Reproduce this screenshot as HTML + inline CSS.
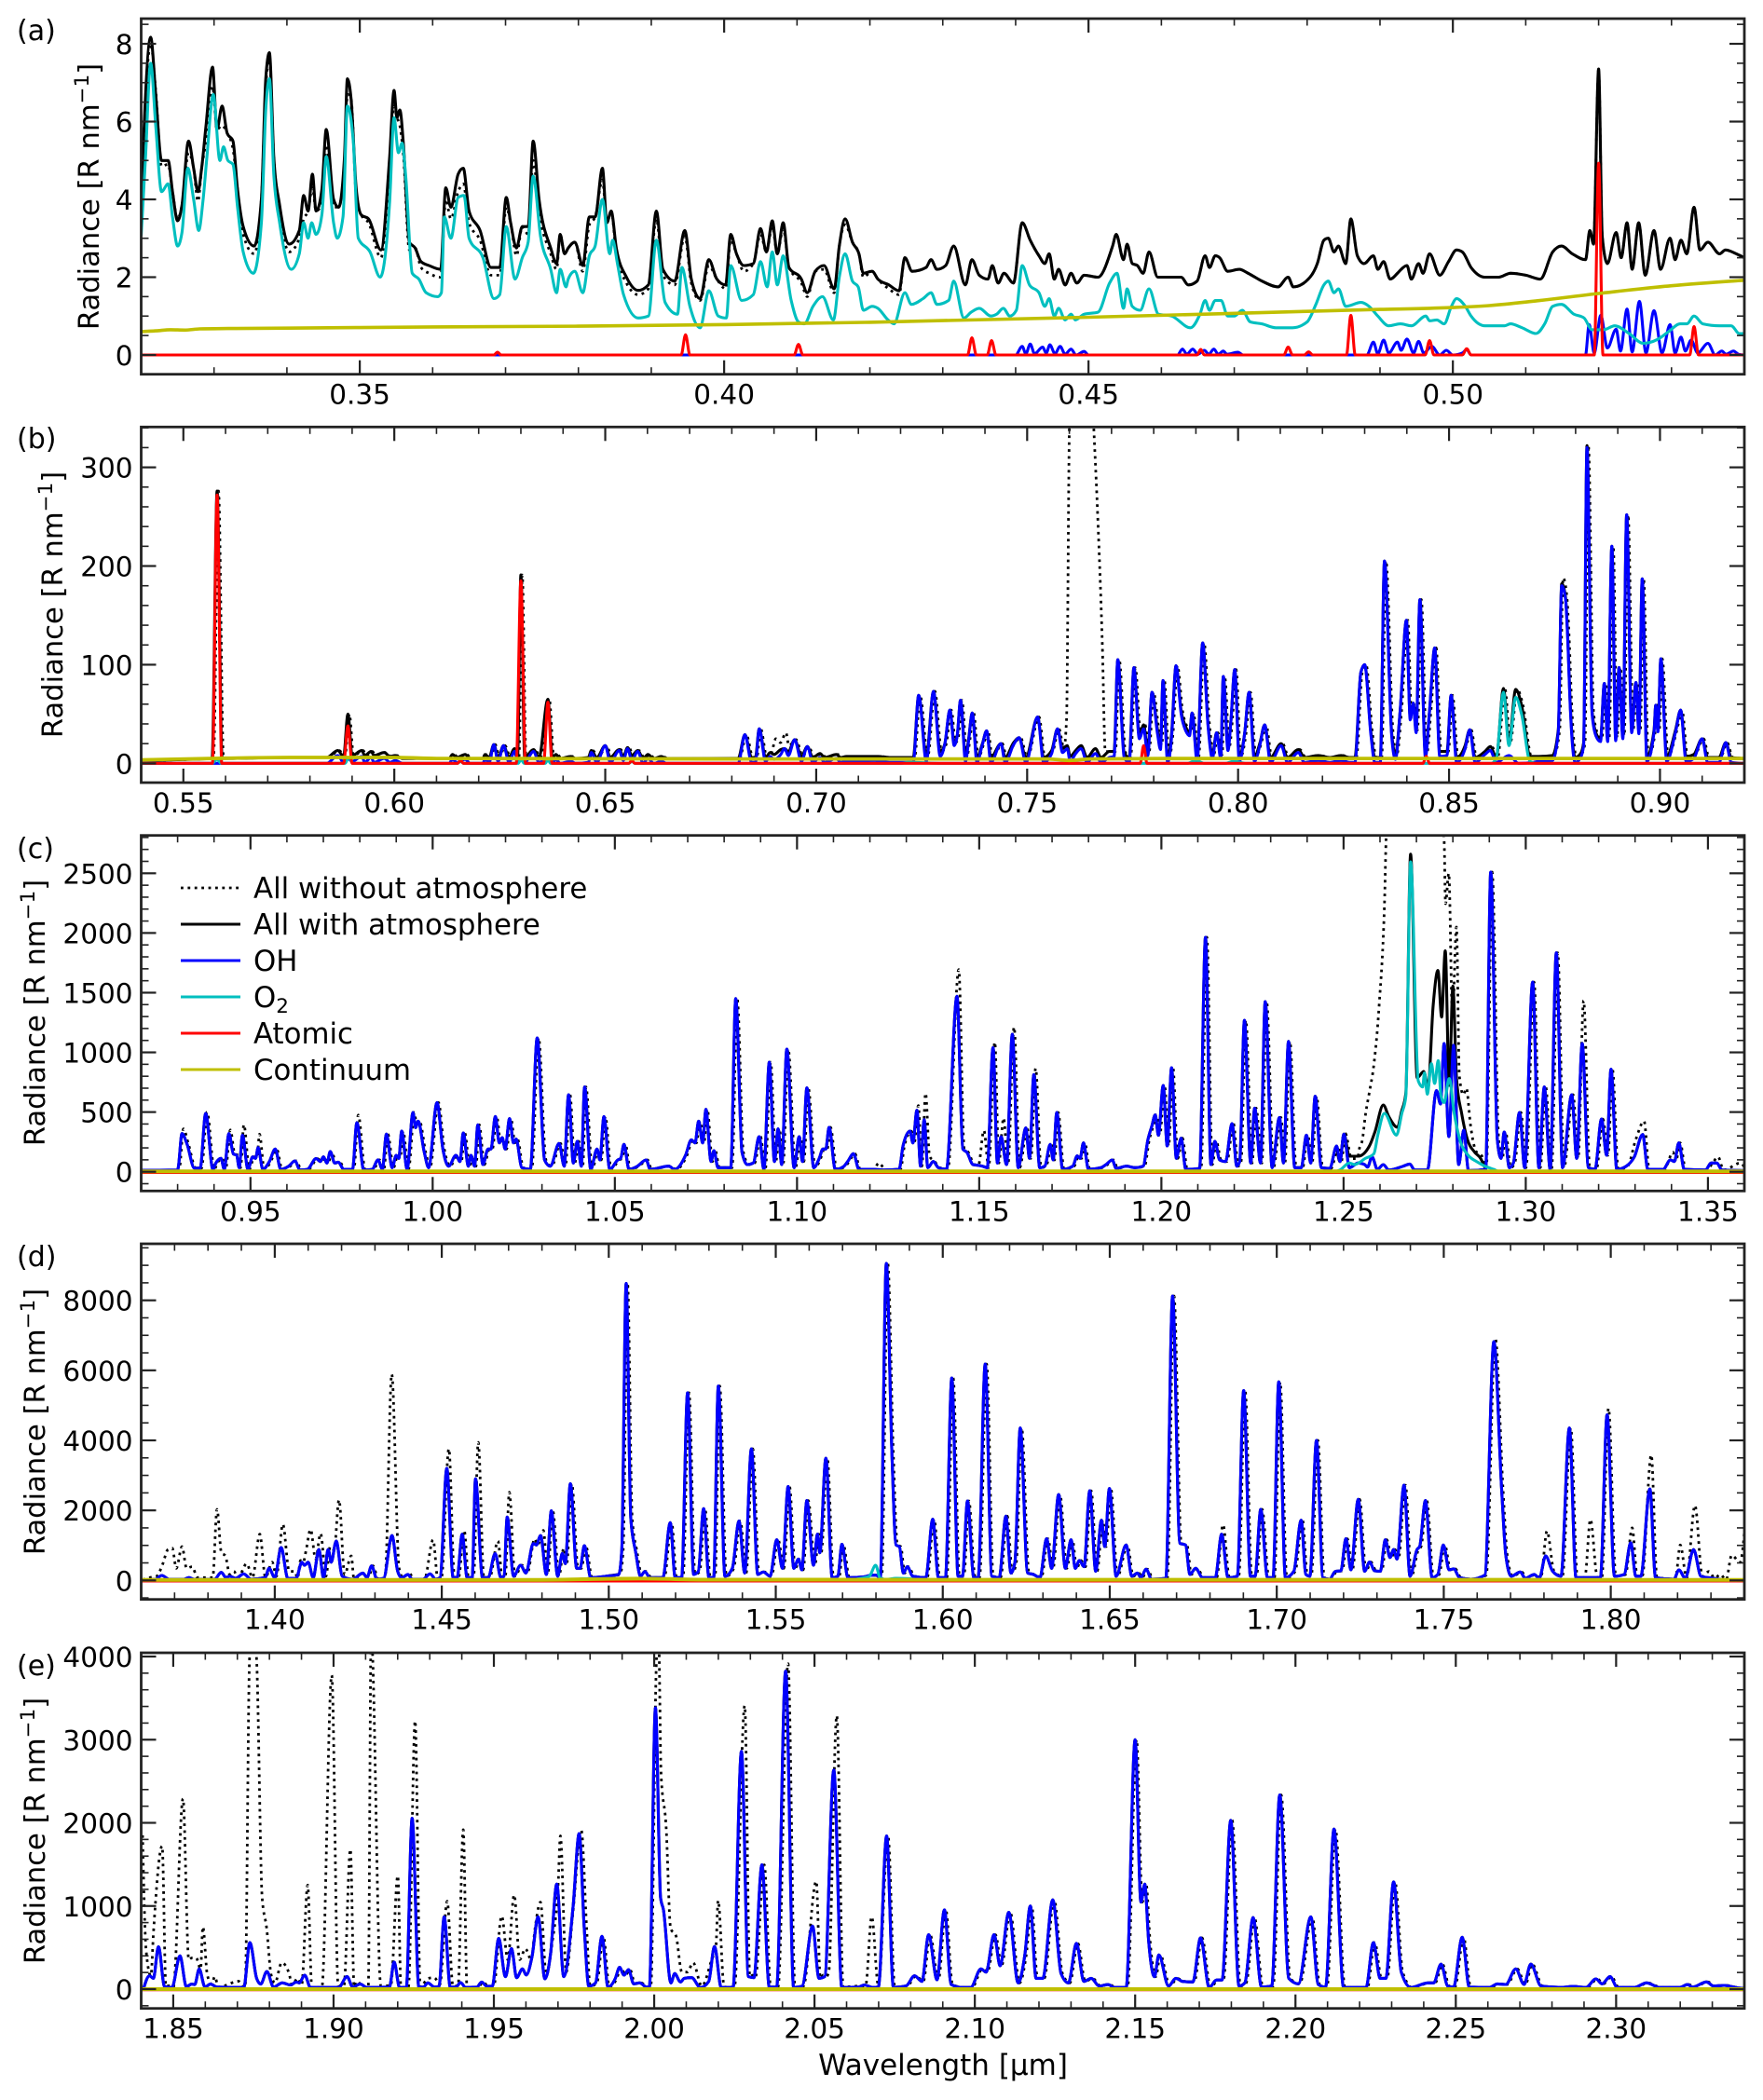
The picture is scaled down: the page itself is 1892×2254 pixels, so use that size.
<!DOCTYPE html>
<html><head><meta charset="utf-8"><title>Nightglow spectrum</title>
<style>
html,body{margin:0;padding:0;background:#fff}
svg{display:block}
text{font-family:"DejaVu Sans","Liberation Sans",sans-serif;fill:#000}
</style></head>
<body>
<svg id="fig" width="1892" height="2254" viewBox="0 0 1892 2254">
<rect x="0" y="0" width="1892" height="2254" fill="#fff"/>
<g id="panel-a"></g>
<g id="panel-b"></g>
<g id="panel-c"></g>
<g id="panel-d"></g>
<g id="panel-e"></g>
<text x="18" y="43" font-size="30">(a)</text>
<text x="18" y="481" font-size="30">(b)</text>
<text x="18" y="921" font-size="30">(c)</text>
<text x="18" y="1359" font-size="30">(d)</text>
<text x="18" y="1798" font-size="30">(e)</text>
<text font-size="30.6" text-anchor="middle" transform="translate(106,211) rotate(-90)">Radiance [R nm<tspan font-size="21.4" dy="-11">−1</tspan><tspan dy="11">]</tspan></text>
<text font-size="30.6" text-anchor="middle" transform="translate(67,649) rotate(-90)">Radiance [R nm<tspan font-size="21.4" dy="-11">−1</tspan><tspan dy="11">]</tspan></text>
<text font-size="30.6" text-anchor="middle" transform="translate(48,1087) rotate(-90)">Radiance [R nm<tspan font-size="21.4" dy="-11">−1</tspan><tspan dy="11">]</tspan></text>
<text font-size="30.6" text-anchor="middle" transform="translate(48,1526) rotate(-90)">Radiance [R nm<tspan font-size="21.4" dy="-11">−1</tspan><tspan dy="11">]</tspan></text>
<text font-size="30.6" text-anchor="middle" transform="translate(48,1965) rotate(-90)">Radiance [R nm<tspan font-size="21.4" dy="-11">−1</tspan><tspan dy="11">]</tspan></text>
<text x="1012" y="2227" font-size="31" text-anchor="middle">Wavelength [µm]</text>
<g>
<line x1="194" x2="258" y1="953" y2="953" stroke="#000" stroke-width="2.8" stroke-dasharray="2.8 4.6"/>
<text x="272" y="964" font-size="30.8">All without atmosphere</text>
<line x1="194" x2="258" y1="992" y2="992" stroke="#000" stroke-width="3"/>
<text x="272" y="1003" font-size="30.8">All with atmosphere</text>
<line x1="194" x2="258" y1="1031" y2="1031" stroke="#0000ff" stroke-width="3"/>
<text x="272" y="1042" font-size="30.8">OH</text>
<line x1="194" x2="258" y1="1070" y2="1070" stroke="#00bfbf" stroke-width="3"/>
<text x="272" y="1081" font-size="30.8">O<tspan font-size="21.5" dy="6">2</tspan></text>
<line x1="194" x2="258" y1="1109" y2="1109" stroke="#ff0000" stroke-width="3"/>
<text x="272" y="1120" font-size="30.8">Atomic</text>
<line x1="194" x2="258" y1="1148" y2="1148" stroke="#bfbf00" stroke-width="3"/>
<text x="272" y="1159" font-size="30.8">Continuum</text>
</g>
</svg>
<script>
/* ---------- axis data ---------- */
const a_xDomain=[320,540];
const a_yDomain=[-0.496,8.647];
const a_xTickLabels=['0.35','0.40','0.45','0.50'];
const a_yTickLabels=['0','2','4','6','8'];
const b_xDomain=[540,920];
const b_yDomain=[-19.5,340.9];
const b_xTickLabels=['0.55','0.60','0.65','0.70','0.75','0.80','0.85','0.90'];
const b_yTickLabels=['0','100','200','300'];
const c_xDomain=[920,1360];
const c_yDomain=[-160.8,2817];
const c_xTickLabels=['0.95','1.00','1.05','1.10','1.15','1.20','1.25','1.30','1.35'];
const c_yTickLabels=['0','500','1000','1500','2000','2500'];
const d_xDomain=[1360,1840];
const d_yDomain=[-543,9615];
const d_xTickLabels=['1.40','1.45','1.50','1.55','1.60','1.65','1.70','1.75','1.80'];
const d_yTickLabels=['0','2000','4000','6000','8000'];
const e_xDomain=[1840,2340];
const e_yDomain=[-232,4045];
const e_xTickLabels=['1.85','1.90','1.95','2.00','2.05','2.10','2.15','2.20','2.25','2.30'];
const e_yTickLabels=['0','1000','2000','3000','4000'];

/* ---------- series: flat wavelength[nm], radiance pairs ---------- */
const a_with=[320,4,321.3,8.17,322,6.7,322.8,5,323.7,5,324.3,4.2,325,3.45,325.6,3.85,326.5,5.5,327.2,4.8,327.8,4.2,328.3,4.8,328.9,5.9,329.8,7.4,330.4,5.8,331.1,6.4,331.8,5.7,332.6,5.5,333.2,4.3,334,3.3,335.5,2.8,336.5,4,337.1,7.1,337.6,7.77,338.2,5.1,339,3.85,340.3,2.85,341.7,3.2,342.3,4.1,342.9,3.7,343.5,4.65,344,3.7,344.8,4.25,345.4,5.8,346.4,4,347.1,3.8,347.9,5.1,348.3,7.1,348.8,6.6,349.5,4.3,350.2,3.6,351.2,3.5,352.9,2.7,354.1,5.1,354.7,6.8,355.1,6.1,355.5,6.3,356,5.4,356.8,2.9,357.6,2.75,358.4,2.4,359.5,2.3,361.1,2.2,361.8,4.3,362.5,3.8,363.5,4.65,364.2,4.8,365,3.7,366.5,3.2,368,2.25,369.2,2.25,370.1,4.05,370.7,3.4,371.5,2.75,372.3,3.3,373.1,3.3,373.8,5.5,374.6,4,376.2,2.75,377,2.35,377.5,3.1,378.1,2.6,378.6,2.75,379.5,2.9,380.6,2.3,381.5,3.55,382.3,3.55,383.3,4.8,383.9,3.4,384.5,3.7,385.2,2.75,386.6,2,388.2,1.66,389.6,1.8,390.7,3.7,391.6,2.2,393.2,1.9,394.6,3.2,395.5,1.95,396.7,1.45,397.9,2.45,399,1.95,400.2,1.8,400.9,3.1,401.7,2.6,402.7,2.3,404,2.35,405,3.25,405.8,2.65,406.6,3.45,407.3,2.6,408.1,3.4,408.9,2.25,410.6,1.95,411.4,1.6,412.5,2.15,413.7,2.3,415.1,1.7,415.8,2.8,416.6,3.5,417.6,2.9,418.5,2.6,419.1,2.1,420.3,2.15,421.1,1.95,422.6,1.8,424,1.65,424.8,2.5,425.8,2.15,427.7,2.25,428.4,2.45,429.2,2.2,430.4,2.3,431.5,2.8,433.1,1.8,434,2.45,435,2.05,436.2,1.95,436.8,2.3,437.6,1.85,438.4,2.1,439.7,1.85,440.9,3.4,442,2.95,443.2,2.55,444,2.35,444.6,2.6,445.3,1.95,445.9,2.2,446.8,1.8,447.6,2.1,448.4,1.85,449.4,2.05,451.3,2,453.3,2.8,453.8,3.1,454.8,2.45,455.3,2.85,456,2.35,456.7,2.3,457.5,2.1,458.3,2.65,459.5,2,461.4,2,462.7,2,463.7,1.8,464.9,1.9,466,2.55,466.6,2.25,467.4,2.55,468,2.5,469.1,2.15,470.7,2.2,471.9,2.1,473.8,1.9,476,1.75,477.4,2,478.1,1.75,480.4,2,481.4,2.35,482.3,2.95,482.9,3,483.7,2.65,484.3,2.8,485.3,2.35,486,3.5,486.9,2.55,487.8,2.35,489.1,2.55,489.7,2.2,490.5,2.4,491.4,1.95,492.4,2.1,492.9,2.2,493.7,2.3,494.3,1.95,495.3,2.35,495.9,2.1,496.8,2.6,498.2,2.05,499.4,2.4,500.5,2.7,501.3,2.65,502.5,2.25,504.4,2,506.3,2,507.9,2.1,510,2.05,512,1.95,513.7,2.65,514.9,2.8,516.4,2.6,518.2,2.45,518.8,3.2,519.3,2.85,520,7.35,520.5,3.05,521.2,2.35,522.4,3.15,523.1,2.5,523.9,3.4,524.6,2.2,525.5,3.4,526.4,2.05,527.6,3.2,528.5,2.2,529.8,3,530.5,2.45,531.3,2.95,532.1,2.6,533.1,3.8,533.9,2.7,535,2.9,536.6,2.6,537.4,2.7,538.9,2.6,540,2.5];
const a_dry=[321.3,8,322,6.8,322.8,4.85,323.7,4.9,325,3.5,326.5,5.2,327.8,3.95,328.9,5.5,329.8,6.9,331.1,5.9,332.6,5.3,334,3.1,335.5,2.6,337.1,6.9,337.6,7.6,339,3.7,340.3,2.65,341.7,3,342.3,3.5,343.5,4.3,344.8,3.9,345.4,5.4,346.4,3.8,347.9,4.9,348.3,6.7,349.5,4.1,351.2,3.4,352.9,2.5,354.1,4.8,354.7,6.4,355.5,5.9,356,5.1,356.8,2.7,358.4,2.25,359.5,2.1,361.1,2,361.8,4,362.5,3.5,363.5,4.2,364.2,4.4,365,3.4,366.5,2.95,368,2.05,369.2,2.05,370.1,3.8,371.5,2.55,373.1,3.1,373.8,5,374.6,3.7,376.2,2.6,377,2.2,380.6,2.15,381.5,3.35,383.3,4.5,385.2,2.6,386.6,1.85,388.2,1.55,389.6,1.7,390.7,3.5,391.6,2.05,393.2,1.8,394.6,3.05,395.5,1.85,396.7,1.4,397.9,2.3,400.2,1.7,400.9,2.95,402.7,2.15,405,3.1,406.6,3.3,408.1,3.25,410.6,1.85,411.4,1.5,413.7,2.2,415.1,1.6,416.6,3.35,419.1,2,422.6,1.7,424,1.55];
const a_oh=[320,0,440,0,440.9,.22,441.4,.03,442,.28,442.6,.03,443.7,.2,444.2,.05,444.7,.26,445.4,.03,446.1,.22,446.8,.02,447.6,.15,448.3,0,449.4,.09,450,0,462.2,0,462.9,.15,463.5,.02,464.3,.15,465,.02,465.9,.12,466.5,.02,467.2,.15,467.8,.02,468.5,.1,469,.02,470.5,.07,471.2,0,488.2,0,489.1,.33,489.7,.03,490.5,.38,491.2,.05,492.4,.33,492.9,.12,493.7,.41,494.6,.05,495.3,.35,496,.05,497.1,.22,498.2,0,499.1,.12,500,0,501.3,.05,501.9,.14,502.5,0,518.2,0,518.7,.78,519.4,.05,520.3,1.02,521.2,.18,522.4,.66,523,.1,523.9,1.18,524.6,.08,525.6,1.38,526.5,.05,527.6,1.14,528.7,.05,529.8,.78,530.5,.05,531.3,.46,531.9,.1,532.7,.38,533.6,.05,535,.3,536,0,536.9,.1,537.5,.02,538.5,.1,539.2,.02,540,0];
const a_o2=[320,3.06,320.6,5.1,321.3,7.5,322,5.9,322.8,4.2,323.7,4.4,324.3,3.55,325,2.8,325.6,3.15,326.4,4.8,327.2,4,327.9,3.2,328.5,4,329,5.05,329.9,6.7,330.8,5,331.3,5.35,331.9,5,332.6,4.9,333.2,3.85,334,2.65,335.4,2.1,336.5,3.4,337.1,6.3,337.6,7.1,338.2,4.65,339,3.4,340.6,2.2,341.7,2.6,342.3,3.4,342.9,3,343.4,3.4,344,3.1,344.8,3.6,345.4,5.1,346.4,3.4,346.9,3,347.7,3.55,348.3,6.4,349.1,5.5,349.8,3,351.4,2.65,352.8,2,354.1,3.95,354.7,6.1,355.3,5.2,355.8,5.45,356.3,4.6,357.2,2.1,358.1,1.95,359.1,1.6,360.7,1.5,361.2,1.6,361.6,3.55,362.5,3,363.5,4.05,364.3,4.1,365,3,366.9,2.5,368.4,1.45,369.2,1.55,370.1,3.3,371.3,1.95,372.3,2.5,373.1,2.9,373.8,4.6,374.8,3.05,376.2,2.2,377,1.6,377.5,2.2,378.3,1.75,378.6,1.95,379.5,2.15,380.6,1.6,381.5,2.55,382.3,2.8,383.3,4,384.3,2.6,384.7,2.95,385.4,2.3,386.2,1.55,388.2,.95,389.6,1,390.7,2.95,391.9,1.35,393.6,1.05,394.2,2.25,395.3,1.25,396.7,.7,397.9,1.65,399.2,1,400.3,.95,400.9,2.3,402.4,1.4,404,1.55,405,2.4,405.9,1.75,406.6,2.65,407.3,1.8,408.1,2.55,409.2,1.4,410.2,.85,411,.8,412.2,1.25,413.5,1.5,415,.9,415.8,2,416.6,2.6,417.6,1.9,418.4,1.75,419.1,1.15,420.3,1.25,421.1,1.2,422.5,.9,423.3,.8,424.8,1.6,425.7,1.3,427.3,1.45,428.4,1.6,429.2,1.3,430.8,1.4,431.5,1.9,432.9,.95,433.9,1.1,435,1.2,436.6,1,437.4,1.05,438.3,1.2,439.2,1,440.1,1.15,440.9,2.3,441.9,1.8,443.2,1.6,444,1.25,444.6,1.45,445.3,1,445.9,1.2,446.8,.9,447.6,1.05,448.2,.9,449.4,1.05,451.3,1.1,452.9,1.85,453.9,2.1,454.8,1.2,455.3,1.7,456,1.25,457.1,1.15,458.3,1.7,459.6,1.05,461.4,1,464,.7,465.3,1.05,466,1.4,466.6,1.15,467.4,1.4,468.2,1.4,469.1,1,470,1,471.1,1.15,472.2,.85,473.8,.8,475.7,.7,478,.7,480,.85,481.2,1.3,482.3,1.8,482.9,1.9,483.7,1.6,484.3,1.7,485.3,1.25,487.4,1.35,488.5,1.25,489.7,1,491.2,.75,492.8,.8,494.3,.75,496.3,1,496.8,.88,497.8,.9,498.8,.8,499.8,1.25,500.5,1.45,501.7,1.25,502.5,1,504.4,.75,507.1,.75,507.9,.8,509.5,.7,511.4,.55,512.6,.8,513.7,1.25,514.9,1.3,516.6,1.05,518,.95,519.1,.65,520.7,.65,522.2,.75,524.2,.55,526.1,.3,528.1,.4,529.6,.6,531.2,.8,532.1,.8,533.1,1,534.3,.8,536.6,.75,538.2,.75,539.3,.55,540,.55];
const a_atomic=[320,0,368.4,0,368.9,.07,369.4,0,394.1,0,394.7,.52,395.3,0,409.6,0,410.2,.27,410.8,0,433.4,0,434,.44,434.6,0,436.1,0,436.7,.37,437.3,0,464.9,0,465.4,.14,465.9,0,476.8,0,477.4,.2,478,0,479.6,0,480.2,.08,480.8,0,485.4,0,486,1.02,486.6,0,496.2,0,496.8,.37,497.4,0,501.3,0,501.9,.16,502.5,0,519.4,0,520,4.93,520.6,0,532.5,0,533.1,.73,533.7,0,540,0];
const a_continuum=[320,.6,322,.62,324,.65,326,.64,328,.67,332,.68,340,.69,360,.72,380,.74,400,.78,420,.84,450,.97,480,1.12,490,1.17,500,1.22,505,1.27,510,1.36,520,1.58,530,1.78,540,1.92];

const b_with=[540,3,556.8,5,558,276,559.2,5,575,6,584,6,586.6,13,588,7,589,50,590,8,592.3,13,593,8,594.5,12,595.2,8,597.6,11,599,7,600.2,8,602,5,613,5,613.8,9,614.8,6,616.8,9,618,5,621,5,621.5,9,622.5,6,623.6,19,624.6,6,625.9,18,627.2,6,628.5,15,629.2,6,630,191,630.9,6,633,14,634.3,6,636.4,65,637.5,6,638.3,9,639.3,5,641.9,7,643,5,646,6,646.7,13,648,6,650,18,651.2,6,653.3,14,654.3,7,655.3,16,656.3,8,657.7,13,659,5,660.1,9,661.5,5,663.3,7,664.5,5,667,5,681.5,5,683.1,29,684.7,6,685.6,6,686.5,35,688,6,689.1,11,690,9,691.6,14,692.5,15,693.4,12,694.9,24,696.5,7,697.9,17,699.2,6,700.9,10,702,6,704.8,9,705.8,6,707.2,7,709.2,7,714,7,714.7,7,717.4,6,721.4,6,723,6,724.3,69,726.1,7,727.8,73,729.4,12,730.5,20,731.7,54,732.7,21,733.4,27,734.2,64,735.4,7,736.1,24,737,51,738.1,6,739.4,20,740.4,33,741.4,6,743.8,20,744.8,6,746.8,21,748.1,26,749.7,6,752.5,47,753.9,6,755.8,13,757.2,35,758.4,15,759.5,18,760.2,7,761.5,13,762.8,18,764.2,6,766.2,15,767.5,6,769.5,12,770.6,12,771.5,105,773,11,774.2,6,775.3,97,776.6,28,777.6,39,778.6,12,779.6,72,780.9,34,781.6,18,782.2,84,783.3,6,784.2,28,785.3,99,786.5,53,787.6,37,788.5,31,789.1,51,790.3,6,791.6,122,792.9,39,793.9,9,794.9,31,795.9,9,796.5,88,797.6,17,798.3,43,799.2,95,800.3,7,801.6,32,802.6,72,803.9,7,805.2,21,806.3,39,807.7,6,810.2,20,811.7,6,814.3,14,815.7,6,819,8,821.7,6,824.4,8,826.4,6,827.7,6,829.1,92,830,100,831.5,31,832.4,6,833.7,6,834.7,205,836.4,31,837.3,9,838.4,52,839.9,145,840.8,47,841.5,61,842.2,34,843.1,166,844.4,10,845.4,54,846.6,117,847.8,12,849.5,12,850.5,69,851.8,6,853.8,18,854.9,34,856.2,6,858.5,12,859.8,17,861.2,6,862.9,76,864.2,21,865.8,75,867.2,59,869.2,7,871.2,7,874.5,8,875.9,34,876.7,182,877.6,169,878.1,131,878.8,53,879.9,6,881.2,10,881.9,21,882.7,322,883.9,53,884.8,31,885.9,25,886.8,81,887.6,25,888.6,220,889.5,26,890.3,97,891.2,28,892.1,252,893.3,34,894.3,82,895,33,895.8,187,896.9,7,898.6,34,899,59,899.5,34,900.2,106,901.6,7,903.7,34,904.9,54,906.2,7,908,9,910,25,911.3,6,914,6,915.6,21,916.9,6,920,5];
const b_dry=[690.1,25,691.2,21,692.5,31,693.2,18,759,45,759.7,345,760.5,420,761.5,420,762.5,420,763.5,420,764.5,420,765.5,336,766.2,270,767.5,120,768.2,12,876.7,188];
const b_oh=[540,0,584,0,586.6,8,588,1,589,5,590,2,592.3,7,593,1,594.5,6,595.2,1,597.6,5,599,1,600.2,3,602,0,613,0,613.8,4,614.8,1,616.8,4,618,0,621,0,621.5,4,622.5,1,623.6,19,624.6,2,625.9,18,627.2,1,628.5,12,629.2,3,630,5,630.9,1,633,12,634.3,1,636.4,5,637.5,1,638.3,4,639.3,0,641.9,2,643,0,646,1,646.7,11,648,1,650,18,651.2,1,653.3,13,654.3,3,655.3,15,656.3,3,657.7,12,659,0,660.1,5,661.5,0,663.3,2,664.5,0,681.5,0,683.1,29,684.7,1,685.6,1,686.5,35,688,2,689.1,7,690,4,691.6,9,692.5,15,693.4,8,694.9,24,696.5,2,697.9,17,699.2,1,700.9,6,702,1,704.8,5,705.8,1,707.2,2,709.2,2,714,3,714.7,2,717.4,1,721.4,1,723,1,724.3,69,726.1,2,727.8,73,729.4,7,730.5,20,731.7,54,732.7,18,733.4,27,734.2,64,735.4,2,736.1,22,737,51,738.1,1,739.4,19,740.4,33,741.4,1,743.8,20,744.8,1,746.8,19,748.1,26,749.7,1,752.5,47,753.9,1,755.8,10,757.2,35,758.4,11,759.5,15,760.2,2,761.5,10,762.8,15,764.2,1,766.2,10,767.5,1,769.5,6,770.6,7,771.5,105,773,6,774.2,1,775.3,97,776.6,25,777.6,35,778.6,8,779.6,72,780.9,30,781.6,14,782.2,84,783.3,1,784.2,24,785.3,99,786.5,50,787.6,33,788.5,28,789.1,51,790.3,1,791.6,122,792.9,37,793.9,5,794.9,31,795.9,5,796.5,88,797.6,13,798.3,43,799.2,95,800.3,2,801.6,32,802.6,72,803.9,2,805.2,19,806.3,39,807.7,1,810.2,18,811.7,1,814.3,11,815.7,1,819,3,821.7,1,824.4,3,826.4,1,827.7,1,829.1,92,830,100,831.5,28,832.4,1,833.7,1,834.7,205,836.4,28,837.3,4,838.4,52,839.9,145,840.8,44,841.5,61,842.2,31,843.1,166,844.4,6,845.4,54,846.6,117,847.8,7,849.5,8,850.5,69,851.8,1,853.8,15,854.9,34,856.2,1,858.5,9,859.8,13,861.2,1,864.2,8,866.5,0,870,1,871.2,2,874.5,3,875.9,32,876.7,180,877.6,167,878.1,129,878.8,50,879.9,1,881.2,6,881.9,18,882.7,320,883.9,50,884.8,28,885.9,22,886.8,81,887.6,22,888.6,220,889.5,23,890.3,97,891.2,25,892.1,252,893.3,31,894.3,82,895,30,895.8,187,896.9,2,898.6,32,899,59,899.5,32,900.2,106,901.6,2,903.7,32,904.9,54,906.2,2,908,5,910,25,911.3,1,914,1,915.6,21,916.9,1,920,0];
const b_o2=[540,0,556.8,0,558,4,559,0,588.3,0,589.2,6,590.2,0,615,0,615.7,2,616.4,0,629.4,0,630,4,630.8,0,635.8,0,636.4,4,637,0,655.6,0,656.3,2,657,0,720,0,722,1,730,0,788,0,790,3,792,0,797,0,799,2,802,0,860,0,861.2,5,862.9,72,864.2,18,865.8,67,867.2,50,869.2,2,871,0,920,0];
const b_atomic=[540,0,556.9,0,558,272,559.1,0,588,0,589,38,590,0,615,0,615.7,3,616.4,0,628.9,0,630,185,631.1,0,635.4,0,636.4,62,637.4,0,655.6,0,656.3,3,657,0,776.8,0,777.6,18,778.4,0,843.8,0,844.6,7,845.4,0,920,0];
const b_continuum=[540,3.5,560,5.2,575,6,590,6,600,6,610,5,640,4.8,680,4.5,720,4.5,755,4.5,760,3,765,4.5,800,5,850,5,920,5];

const c_oh=[920,12,930,15,930.2,40,931.2,320,932.6,230,934.6,30,936.2,30,937.7,489,939.7,20,940.5,73,941.9,112,942.8,20,944.1,320,945.3,150,946.2,138,946.9,34,947.8,307,949.3,20,950.6,125,951.4,112,952.1,203,953.4,20,955.2,86,956.8,190,958.3,20,960.5,47,962.2,91,963.6,15,965.6,20,968,110,969.2,86,970,125,971,73,971.9,170,973.1,73,974.1,80,975.6,20,978,20,979.2,411,981.1,15,983.4,20,985,100,986.2,20,987.3,315,988.9,34,990,138,990.7,112,991.5,340,993,20,994.6,497,995.3,370,996,424,997.7,164,998.9,34,1001.2,580,1002.8,190,1004.4,47,1006.4,138,1007.5,86,1008.4,325,1009.8,47,1010.5,138,1011.5,47,1012.4,393,1013.8,60,1015.2,190,1016,190,1017.2,463,1018.3,242,1019.1,286,1019.9,190,1021.1,445,1022.2,242,1022.9,273,1024.5,34,1026.8,20,1028.7,1121,1030.7,99,1032.3,47,1034.7,237,1036.1,47,1037.3,645,1038.6,73,1039.7,255,1040.8,47,1041.7,710,1043.4,20,1045.1,190,1045.9,99,1047,463,1048.6,20,1050.8,99,1051.6,112,1052.5,229,1053.9,20,1056.2,47,1058.6,99,1059.7,20,1064.8,47,1066.4,20,1069.4,138,1071,268,1072,242,1073,424,1074.1,242,1075,523,1076.4,86,1077.2,177,1078.3,34,1081.8,34,1083.2,1451,1084.9,164,1086.4,60,1088,73,1089.6,294,1090.9,20,1092.4,918,1093.8,86,1094.8,359,1095.8,60,1097.2,1027,1099.2,34,1100.6,294,1101.5,86,1102.7,702,1104.6,34,1106.1,112,1107.1,190,1107.9,190,1108.8,372,1110.5,20,1112.9,47,1113.9,86,1115.5,151,1117,20,1120.6,20,1124,15,1128,20,1129.1,216,1131,340,1131.8,242,1132.9,515,1133.9,47,1134.9,437,1135.9,34,1137.4,86,1138.8,34,1141,20,1143.9,1470,1145.5,190,1146.6,164,1148.3,60,1149.4,55,1150.9,47,1152.2,34,1153.8,1040,1155,73,1156,294,1157.5,60,1159.1,1152,1160.7,34,1162.8,367,1163.8,112,1165,814,1166.6,34,1168,47,1169.5,229,1170.3,99,1171.3,497,1172.9,20,1175.7,47,1176.9,133,1177.7,112,1178.6,242,1180,20,1183.4,34,1185,65,1186.5,99,1187.6,28,1190.4,47,1192.7,34,1195,47,1196.3,268,1197.4,385,1198.3,476,1199.2,306,1200.5,723,1201.6,216,1202.8,871,1204.1,112,1205.4,281,1206.7,20,1210.5,28,1212.1,1964,1213.6,60,1214.7,255,1216,99,1217.6,86,1219.4,403,1220.7,47,1221.5,86,1222.8,1269,1224.5,73,1225.6,533,1227.2,73,1228.5,1425,1230.4,34,1232.4,455,1233.5,73,1234.9,1092,1236.6,34,1238.4,34,1239.8,307,1241,73,1242.2,632,1243.9,34,1246.2,28,1248.1,216,1249,86,1250.1,315,1251.6,34,1254,73,1255.8,60,1256.6,40,1257.8,125,1259.3,20,1260.9,60,1262.4,15,1266.4,47,1268.2,65,1269.5,15,1273,15,1275.5,680,1276.6,567,1277.6,1074,1278.9,294,1280.2,1060,1281.6,60,1283,348,1284.3,10,1289,20,1290.4,2510,1292.2,268,1293.2,112,1294.1,333,1295.5,34,1296.6,73,1298.3,497,1299.7,34,1301.9,1589,1303.6,34,1305.1,710,1306.7,20,1308.4,1834,1310.1,34,1312.6,645,1314,112,1315.5,1074,1317.2,34,1319,20,1320.8,442,1322.2,138,1323.4,858,1325,20,1327.6,47,1329.8,125,1332.1,312,1333.5,20,1337.7,20,1339.7,99,1340.8,86,1342,242,1343.5,20,1349.3,15,1350.9,73,1352.4,73,1353.9,15,1360,10];
const c_with=[1248.1,216,1249,86,1250.1,315,1251.6,130,1254,130,1257.1,216,1258.6,333,1260.9,559,1262.4,463,1264.8,372,1265.9,502,1267.1,658,1268.4,2660,1270.2,788,1272,840,1273.2,710,1274.6,1399,1275.9,1686,1276.9,1295,1277.9,1850,1279,723,1280,1555,1281,780,1282.4,489,1284,270,1286,164,1287.6,112,1288.8,34];
const c_dry=[931.2,360,937.7,500,944.1,350,947.8,395,952.1,315,979.2,475,1122.1,73,1132.9,554,1134.9,658,1136,130,1144,1693,1150.9,346,1153.9,1087,1156.3,450,1159.2,1212,1165.1,866,1248.2,216,1250.1,320,1251.8,110,1253.4,110,1254,200,1254.8,270,1255.5,450,1256.6,650,1257.8,866,1259.4,1399,1260.9,2300,1261.4,2900,1262.4,3200,1263.5,3200,1265,3200,1266.4,3200,1267.5,3200,1268.2,3200,1269.5,3200,1271,3200,1273,3200,1274.5,3200,1275.5,3200,1276.6,2900,1277.2,2790,1277.6,2245,1278.5,2500,1279.5,1300,1280.6,2050,1281.4,800,1282.5,645,1283.3,700,1284.5,380,1286,170,1287.6,130,1288.8,30,1315.5,1433,1329.8,268,1332.1,424,1340,164,1352.4,125,1358.6,73];
const c_o2=[920,4,925,0,1247,0,1249,15,1251.6,73,1253,60,1256,112,1258.3,150,1259.4,307,1261.2,489,1264.5,307,1266,489,1267.1,632,1268.4,2596,1270.5,762,1271.7,710,1272.2,827,1273,650,1274.1,905,1275,740,1276,931,1276.7,640,1277.6,580,1279,780,1280.3,502,1281.9,270,1284.2,138,1286.5,86,1288.8,47,1291.2,20,1293,0,1360,0];
const c_atomic=[920,-6,1360,-6];
const c_continuum=[920,4,1360,4];

const d_oh=[1360,15,1364.2,30,1366.2,140,1368.4,30,1372.6,30,1374.3,80,1376,30,1381.9,30,1384,230,1385.4,80,1386.5,120,1388.3,60,1390.7,185,1392.9,35,1397.1,80,1398.3,345,1400,80,1401.9,940,1403.9,60,1406.4,60,1408.1,520,1408.9,430,1410,520,1411.5,80,1413.2,880,1414.6,80,1416,880,1416.9,520,1418.4,1125,1420.2,120,1423.3,35,1426.4,210,1427.6,80,1429,415,1430.6,35,1432.6,60,1435.1,1280,1436.8,260,1438,80,1439.9,170,1441.1,35,1444.4,35,1446.5,185,1448.2,35,1449.5,80,1451.5,3200,1453.4,80,1454.6,80,1456.1,1320,1457.6,80,1459.1,80,1460.1,2900,1462.2,80,1463.9,80,1466,770,1467.7,80,1468.6,120,1469.6,1810,1471.5,120,1473.6,435,1475.2,210,1477.4,1055,1478.3,1010,1479.6,1280,1481.3,170,1482.8,1990,1484.7,120,1486.1,770,1487,480,1488.5,2760,1490.4,345,1491.4,345,1492.7,990,1494.6,80,1499.3,120,1503,170,1503.9,880,1505.2,8480,1506.6,1760,1508.1,790,1509.5,120,1510.8,255,1512.3,80,1516.2,80,1518.4,1650,1519.9,80,1521.8,80,1523.6,5360,1525.4,170,1526.8,255,1528.4,2050,1530,80,1531.4,80,1532.8,5550,1534.8,120,1537,345,1539,1695,1540.7,210,1542.7,3760,1544.6,170,1546.3,240,1548.3,120,1550.3,1160,1552,345,1553.7,2680,1555.4,345,1556.8,610,1557.8,300,1559.3,2280,1561.3,430,1562.5,1320,1563.2,790,1565,3490,1566.9,80,1568.6,120,1569.8,1030,1571.6,80,1576.2,100,1578.8,150,1580,150,1581.3,80,1583.1,9055,1584.8,3540,1586,1010,1587,965,1588.2,210,1589.4,390,1591,120,1594.9,80,1597,1750,1598.7,80,1600.8,80,1602.7,5780,1604.6,120,1605.9,120,1607.4,2270,1609.3,80,1610.6,80,1612.7,6180,1614.7,120,1616.9,80,1618.9,1835,1620.4,210,1621.6,520,1623.2,4355,1625.4,210,1627.1,170,1629.1,80,1631.1,1190,1632.6,345,1634.7,2450,1636.7,345,1638.4,1160,1639.7,345,1640.9,570,1642.3,390,1644,2560,1645.8,260,1647.5,1720,1648.5,965,1649.9,2625,1651.9,120,1654.9,1010,1656.6,120,1658.3,210,1659.3,80,1660.9,320,1662.5,35,1666.8,60,1668.8,8125,1671,1060,1672.7,1010,1674,170,1675.7,345,1677.8,80,1681.6,80,1683.5,1320,1685.4,80,1688.2,120,1690.1,5420,1692.1,120,1693.5,120,1695.2,2030,1697.2,80,1698.9,80,1700.6,5670,1702.6,80,1705.1,260,1707.3,1720,1708.7,170,1709.9,120,1711.9,4000,1713.8,80,1715.8,35,1717.5,255,1719.2,275,1720.7,1190,1722.2,300,1724.4,2315,1726.3,260,1727.8,525,1729.3,275,1731,260,1732.5,1160,1733.9,655,1735,880,1736,610,1738.1,2720,1739.9,120,1742,880,1742.8,970,1744.5,2280,1746.5,80,1748.2,170,1749.9,1010,1751.6,300,1753,330,1754.7,80,1758.1,35,1762.3,150,1765,6820,1767.3,2650,1768.6,700,1770.2,120,1772.9,240,1774.4,60,1777.1,170,1778.6,60,1780.5,700,1782.6,260,1785.1,120,1787.6,4355,1789.6,80,1796.9,80,1798.9,4735,1801.1,120,1804,170,1806,1075,1807.5,120,1809,120,1811.7,2610,1813.4,80,1818.9,35,1820.4,300,1822.3,60,1824.8,880,1827,120,1830.7,60,1834.1,15,1840,0];
const d_dry=[1362,80,1364.2,120,1365.9,430,1367.6,880,1368.9,920,1370.1,345,1371.8,965,1373.2,345,1374.8,390,1376.5,80,1381,80,1382.3,2030,1383.6,790,1384.8,700,1386.1,170,1387.3,260,1388.6,80,1391.2,480,1392.9,80,1395.1,1320,1396.8,80,1398.8,520,1400.1,120,1402,1605,1403.9,260,1405.6,255,1407.3,570,1409,880,1410.3,1455,1411.8,610,1413.3,1340,1414.9,120,1416.2,965,1417.4,880,1418.8,2300,1420.5,170,1422.5,700,1424.2,80,1434.6,5890,1436.8,345,1439.9,215,1441.1,35,1444.4,35,1447,1160,1448.4,35,1451.7,3760,1456.3,1430,1460.5,3940,1466.4,1125,1469.8,2520,1477.4,1190,1480,1430,1486.1,920,1683.5,1590,1765,6920,1780.5,1410,1791.8,80,1793.5,1740,1795.6,80,1798.9,4915,1806,1500,1811.7,3585,1820.4,1010,1824.8,2140,1829,255,1832.4,170,1835.8,718,1838.3,520,1840,1850];
const d_with=[1490,30,1495,60,1500,130,1503,170];
const d_o2=[1360,0,1570,0,1575,50,1578,120,1579.9,430,1581.3,60,1583,30,1586,60,1590,50,1593,0,1840,0];
const d_atomic=[1360,-20,1480,-20,1505,-20,1540,-20,1840,-20];
const d_continuum=[1360,15,1480,15,1500,45,1510,50,1530,20,1840,15];

const e_oh=[1840.8,15,1842.6,160,1843.8,130,1845.4,510,1847.3,30,1849.6,20,1852.1,400,1854.1,30,1855.8,60,1856.7,55,1858.1,243,1859.9,25,1861.6,60,1863.7,25,1869.9,20,1872,20,1873.9,560,1876,130,1877.3,60,1879.2,213,1881.3,25,1884,75,1886.6,50,1888.4,85,1889.3,75,1891,168,1892.8,20,1901.6,20,1904.2,150,1906,25,1908.3,60,1910.4,20,1917.4,25,1918.9,325,1920.6,20,1922.7,20,1924.5,2055,1926.6,25,1928,25,1929.4,75,1931.5,25,1932.9,35,1934.5,870,1936.4,25,1938.2,25,1939.6,80,1941.2,20,1944.7,25,1946.2,85,1947.8,35,1949.5,35,1951.5,610,1953.6,150,1955.5,486,1957.1,138,1958.9,243,1960.1,170,1961.9,393,1963.8,870,1965.9,123,1967.7,430,1969.6,1263,1971.8,150,1974.7,990,1976.6,1870,1978.2,730,1979.6,35,1981.7,75,1983.7,635,1985.6,25,1987.9,130,1989.2,262,1990.6,168,1992,235,1993.6,64,1995.5,75,1997.6,25,1998.5,25,2000.4,3383,2002,1100,2002.9,953,2005.2,75,2006.4,187,2008.2,86,2009.4,130,2011.7,138,2014.4,20,2017,93,2018.8,512,2020.9,20,2024.6,20,2027.2,2860,2029.4,150,2031.1,138,2033.6,1495,2035.9,25,2038.2,25,2041,3824,2043.5,20,2046.1,35,2049.4,759,2051.4,130,2053.2,150,2056,2635,2058.5,20,2063.7,25,2065.5,50,2068.1,20,2069.9,25,2072.5,1843,2074.6,20,2078.5,37,2081.2,160,2083.5,93,2085.6,654,2088.2,112,2090.5,953,2092.6,56,2096.1,20,2098.7,20,2101.9,243,2103.5,205,2106,654,2107.9,280,2110.6,923,2113.5,75,2115.6,410,2117.3,1000,2119.1,130,2121.2,130,2124.3,1073,2126.9,187,2129.2,75,2131.7,550,2134,93,2136.3,130,2138.8,37,2141.5,55,2143.6,20,2147.2,20,2150,3000,2151.8,1047,2153,1263,2154.2,580,2156,150,2157.4,411,2160.4,37,2162.7,130,2164.8,93,2168,86,2170.4,617,2173.1,20,2175.4,110,2177.1,110,2179.8,2030,2182.4,37,2184.2,75,2186.8,860,2189.4,25,2192.6,37,2195.1,2336,2197.9,130,2200.9,64,2204.8,870,2207.1,56,2209.4,25,2212,1925,2215,20,2222,20,2224.3,560,2226.4,130,2228.2,130,2230.6,1290,2233,205,2236,20,2241.4,75,2243.1,75,2245.4,300,2247.5,37,2249.3,25,2252,624,2254.2,25,2260.4,20,2263,63,2265.6,56,2268.7,243,2271.3,56,2273.4,300,2276.6,37,2282.7,20,2286.6,33,2290.6,20,2293.7,123,2295.6,64,2298.1,150,2300.4,20,2305.6,20,2309.5,75,2313.6,20,2319.8,20,2322.3,55,2323.8,25,2328.2,86,2330.4,37,2333.7,45,2338,15,2340,8];
const e_dry=[1840,1850,1841.1,467,1843.4,680,1846.1,1720,1848.2,40,1852.6,2290,1854.4,355,1855.4,375,1856.7,375,1858.8,750,1860.2,170,1862.5,150,1865.5,40,1869.9,95,1873.4,4000,1874.4,4300,1875.5,4000,1877.3,1100,1878.7,730,1880.1,170,1881.3,75,1883.4,318,1885.7,187,1888.4,130,1889.6,50,1891.5,1252,1893.6,25,1895.9,20,1899,3775,1901,40,1902.8,40,1904.8,1682,1906.9,95,1908.7,25,1911.3,4280,1914.3,40,1917.4,40,1919.6,1364,1921.6,25,1922.9,25,1925,3226,1927.4,56,1929.2,130,1931,138,1932.7,56,1935,1058,1936.8,37,1938.4,37,1940,1917,1942.1,20,1952,878,1953.9,355,1955.9,1133,1957.6,355,1959.4,486,1961.2,355,1962.4,730,1964.1,1047,1965.9,168,1967.7,542,1970.3,1843,1972.1,205,1974.2,915,1976.8,1917,1978.5,730,1979.6,35,2000.3,4000,2000.9,4280,2001.7,2600,2003.3,1944,2004.7,730,2006.4,635,2008.2,205,2009.9,205,2011.7,318,2014.4,37,2017.5,355,2019.5,1065,2021.4,25,2024.6,25,2027.8,3410,2030.3,168,2033.9,1495,2041.3,3914,2050.1,1297,2052.2,168,2054,205,2056.5,3290,2059.3,25,2063.7,37,2065.5,37,2067.4,870,2069.5,37];
const e_o2=[1840,0,2340,0];
const e_atomic=[1840,-8,2340,-8];
const e_continuum=[1840,0,2340,0];

/* ---------- helpers ---------- */
const fig=document.getElementById('fig');
const NS=fig.namespaceURI;
function toPairs(flat){const p=[];for(let i=0;i+1<flat.length;i+=2)p.push([flat[i],flat[i+1]]);return p;}
function overlay(base,over,tol){
  const b=toPairs(base),o=toPairs(over);
  const keep=b.filter(q=>!o.some(r=>Math.abs(r[0]-q[0])<tol));
  return keep.concat(o).sort((m,n)=>m[0]-n[0]);
}
/* monotone curve through the plotted samples, so line peaks stay rounded like the spectra */
function curvePath(p){
  const n=p.length;
  if(n<3)return p.map((q,i)=>(i?'L':'M')+q[0].toFixed(1)+' '+q[1].toFixed(1)).join('');
  const h=[],s=[];
  for(let i=0;i<n-1;i++){h[i]=Math.max(p[i+1][0]-p[i][0],1e-3);s[i]=(p[i+1][1]-p[i][1])/h[i];}
  const t=[];
  for(let i=1;i<n-1;i++){
    if(s[i-1]*s[i]<=0){t[i]=0;continue;}
    const m=(s[i-1]*h[i]+s[i]*h[i-1])/(h[i-1]+h[i]);
    t[i]=Math.sign(s[i])*2*Math.min(Math.abs(s[i-1]),Math.abs(s[i]),0.5*Math.abs(m));
  }
  t[0]=(3*s[0]-t[1])/2;t[n-1]=(3*s[n-2]-t[n-2])/2;
  let d='M'+p[0][0].toFixed(1)+' '+p[0][1].toFixed(1);
  for(let i=0;i<n-1;i++){
    const k=h[i]/3;
    d+='C'+(p[i][0]+k).toFixed(1)+' '+(p[i][1]+t[i]*k).toFixed(1)+' '+(p[i+1][0]-k).toFixed(1)+' '+(p[i+1][1]-t[i+1]*k).toFixed(1)+' '+p[i+1][0].toFixed(1)+' '+p[i+1][1].toFixed(1);
  }
  return d;
}
function drawPanel(id,box,xDomain,yDomain,xLabels,yLabels,xMinorStep,yMinorStep,series){
  const g=document.getElementById('panel-'+id);
  const L=box[0],R=box[1],T=box[2],B=box[3];
  const xScale=nm=>L+(nm-xDomain[0])/(xDomain[1]-xDomain[0])*(R-L);
  const yScale=v=>B-(v-yDomain[0])/(yDomain[1]-yDomain[0])*(B-T);
  const clip=document.createElementNS(NS,'clipPath');
  clip.setAttribute('id','clip-'+id);
  const cr=document.createElementNS(NS,'rect');
  cr.setAttribute('x',L);cr.setAttribute('y',T);cr.setAttribute('width',R-L);cr.setAttribute('height',B-T);
  clip.appendChild(cr);g.appendChild(clip);
  const lines=document.createElementNS(NS,'g');
  lines.setAttribute('clip-path','url(#clip-'+id+')');
  g.appendChild(lines);
  series.forEach(s=>{
    const el=document.createElementNS(NS,'path');
    
    
    el.setAttribute('d',curvePath(s.pts.map(q=>[xScale(q[0]),yScale(q[1])])));
    el.setAttribute('fill','none');
    el.setAttribute('stroke',s.color);
    el.setAttribute('stroke-width',s.width);
    el.setAttribute('stroke-linejoin','round');
    if(s.dash)el.setAttribute('stroke-dasharray',s.dash);
    if(s.shift)el.setAttribute('transform','translate('+s.shift+',0)');
    lines.appendChild(el);
  });
  function tick(x1,y1,x2,y2,w,name){
    const t=document.createElementNS(NS,'line');
    
    
    t.setAttribute('x1',x1);t.setAttribute('y1',y1);t.setAttribute('x2',x2);t.setAttribute('y2',y2);
    t.setAttribute('stroke','#222');t.setAttribute('stroke-width',w);
    g.appendChild(t);
  }
  const nMinX=Math.ceil(xDomain[0]/xMinorStep),nMaxX=Math.floor(xDomain[1]/xMinorStep);
  for(let i=nMinX;i<=nMaxX;i++){
    const x=xScale(i*xMinorStep);
    tick(x,T,x,T+7.5,1.6,id+'-x-minor-tick-top');
    tick(x,B,x,B-7.5,1.6,id+'-x-minor-tick-bottom');
  }
  const nMinY=Math.ceil(yDomain[0]/yMinorStep),nMaxY=Math.floor(yDomain[1]/yMinorStep);
  for(let i=nMinY;i<=nMaxY;i++){
    const y=yScale(i*yMinorStep);
    tick(L,y,L+8,y,1.6,id+'-y-minor-tick-left');
    tick(R,y,R-8,y,1.6,id+'-y-minor-tick-right');
  }
  xLabels.forEach(lab=>{
    const x=xScale(Number(lab)*1000);
    tick(x,T,x,T+15,2.2,id+'-x-major-tick-top');
    tick(x,B,x,B-15,2.2,id+'-x-major-tick-bottom');
    const t=document.createElementNS(NS,'text');
    
    
    t.setAttribute('x',x);t.setAttribute('y',B+32);
    t.setAttribute('text-anchor','middle');t.setAttribute('font-size','29.5');
    t.textContent=lab;
    g.appendChild(t);
  });
  yLabels.forEach(lab=>{
    const y=yScale(Number(lab));
    tick(L,y,L+16,y,2.2,id+'-y-major-tick-left');
    tick(R,y,R-16,y,2.2,id+'-y-major-tick-right');
    const t=document.createElementNS(NS,'text');
    
    
    t.setAttribute('x',L-9);t.setAttribute('y',y+11);
    t.setAttribute('text-anchor','end');t.setAttribute('font-size','29.5');
    t.textContent=lab;
    g.appendChild(t);
  });
  const frame=document.createElementNS(NS,'rect');
  
  
  frame.setAttribute('x',L);frame.setAttribute('y',T);frame.setAttribute('width',R-L);frame.setAttribute('height',B-T);
  frame.setAttribute('fill','none');frame.setAttribute('stroke','#222');frame.setAttribute('stroke-width','2.8');
  g.appendChild(frame);
}
const DOT='2.8 4.6',K='#000',BL='#0000ff',CY='#00bfbf',RD='#ff0000',YL='#bfbf00';
const W=3.1,DW=2.8;

drawPanel('a',[151.5,1872,20,401.7],a_xDomain,a_yDomain,a_xTickLabels,a_yTickLabels,10,0.5,[
 {name:'without-atmosphere',pts:overlay(a_with,a_dry,0.25),color:K,width:DW,dash:DOT},
 {name:'with-atmosphere',pts:toPairs(a_with),color:K,width:W},
 {name:'oh',pts:toPairs(a_oh),color:BL,width:W},
 {name:'o2',pts:toPairs(a_o2),color:CY,width:W},
 {name:'atomic',pts:toPairs(a_atomic),color:RD,width:W},
 {name:'continuum',pts:toPairs(a_continuum),color:YL,width:3.6}]);
drawPanel('b',[151.5,1872,458.3,840],b_xDomain,b_yDomain,b_xTickLabels,b_yTickLabels,10,20,[
 {name:'without-atmosphere',pts:overlay(b_with,b_dry,0.45),color:K,width:DW,dash:DOT,shift:1.5},
 {name:'with-atmosphere',pts:toPairs(b_with),color:K,width:W},
 {name:'oh',pts:toPairs(b_oh),color:BL,width:W},
 {name:'o2',pts:toPairs(b_o2),color:CY,width:W},
 {name:'atomic',pts:toPairs(b_atomic),color:RD,width:W},
 {name:'continuum',pts:toPairs(b_continuum),color:YL,width:3.8}]);
drawPanel('c',[151.5,1872,896.7,1278.3],c_xDomain,c_yDomain,c_xTickLabels,c_yTickLabels,10,100,[
 {name:'without-atmosphere',pts:overlay(c_oh,c_dry,0.5),color:K,width:DW,dash:DOT,shift:1.5},
 {name:'with-atmosphere-base',pts:toPairs(c_oh),color:K,width:W},
 {name:'with-atmosphere',pts:toPairs(c_with),color:K,width:W},
 {name:'oh',pts:toPairs(c_oh),color:BL,width:W},
 {name:'o2',pts:toPairs(c_o2),color:CY,width:W},
 {name:'atomic',pts:toPairs(c_atomic),color:RD,width:W},
 {name:'continuum',pts:toPairs(c_continuum),color:YL,width:4}]);
drawPanel('d',[151.5,1872,1335,1716.7],d_xDomain,d_yDomain,d_xTickLabels,d_yTickLabels,10,500,[
 {name:'without-atmosphere',pts:overlay(d_oh,d_dry,0.7),color:K,width:DW,dash:DOT,shift:1.5},
 {name:'with-atmosphere-base',pts:toPairs(d_oh),color:K,width:W},
 {name:'with-atmosphere',pts:toPairs(d_with),color:K,width:W},
 {name:'oh',pts:toPairs(d_oh),color:BL,width:W},
 {name:'o2',pts:toPairs(d_o2),color:CY,width:W},
 {name:'atomic',pts:toPairs(d_atomic),color:RD,width:W},
 {name:'continuum',pts:toPairs(d_continuum),color:YL,width:4}]);
drawPanel('e',[151.5,1872,1774,2155.7],e_xDomain,e_yDomain,e_xTickLabels,e_yTickLabels,10,200,[
 {name:'without-atmosphere',pts:overlay(e_oh,e_dry,0.7),color:K,width:DW,dash:DOT,shift:1.5},
 {name:'with-atmosphere',pts:toPairs(e_oh),color:K,width:W},
 {name:'oh',pts:toPairs(e_oh),color:BL,width:W},
 {name:'o2',pts:toPairs(e_o2),color:CY,width:W},
 {name:'atomic',pts:toPairs(e_atomic),color:RD,width:W},
 {name:'continuum',pts:toPairs(e_continuum),color:YL,width:4}]);
</script>
</body></html>
